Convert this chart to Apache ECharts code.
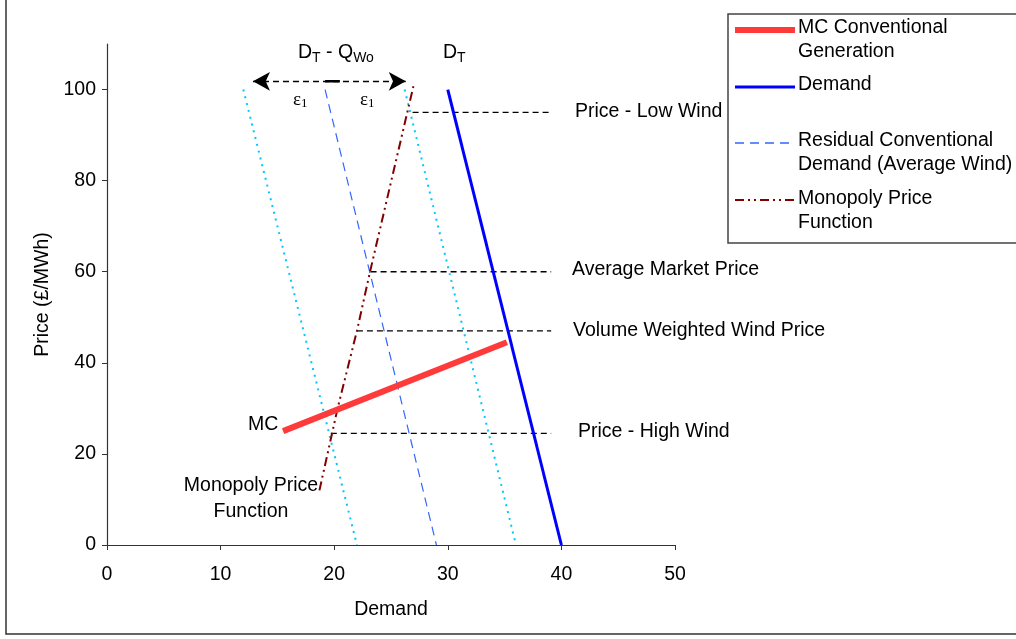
<!DOCTYPE html>
<html><head><meta charset="utf-8">
<script src="https://cdn.jsdelivr.net/npm/echarts@6/dist/echarts.min.js"></script>
<style>html,body{margin:0;padding:0;background:#fff}#c{width:1016px;height:639px}</style>
</head><body><div id="c"></div>
<script>
// ---- data ----
const xTicks = [0, 10, 20, 30, 40, 50];
const yTicks = [0, 20, 40, 60, 80, 100];
const mcLine = [[15.5, 25], [35.2, 44.5]];
const demandLine = [[30, 100], [40, 0]];
const residualLine = [[19.2, 100], [29, 0]];
const lowerBand = [[12, 100], [22, 0]];
const upperBand = [[26.2, 100], [36, 0]];
const monopolyLine = [[18.7, 12], [20.3, 30], [22, 47], [23.2, 60.5], [27, 101]];
const priceLowWind = [[26.9, 95], [39.1, 95]];
const avgMarketPrice = [[23.2, 60], [39.1, 60]];
const volWeightedPrice = [[22, 47], [39.1, 47]];
const priceHighWind = [[19.7, 24.5], [39.1, 24.5]];
const arrowSpan = [[12.85, 101.8], [26.3, 101.8]];
const arrowMid = [[19.2, 101.8], [20.5, 101.8]];

const F = 'Liberation Sans, Arial, sans-serif';
const FS = 19.5;
const chart = echarts.init(document.getElementById('c'), null, {renderer: 'canvas'});

function lineSeries(name, data, style, z) {
  return {name, type: 'line', data, symbol: 'none', silent: true, animation: false,
    lineStyle: style, z: z || 2};
}
const hDash = {color: '#000', width: 1.3, type: [6, 4]};
const cyan = {color: '#00c8ff', width: 2, type: [2, 5]};
function txt(x, y, text, extra) {
  return {type: 'text', x, y, style: Object.assign({text, fontFamily: F, fontSize: FS, fill: '#000', verticalAlign: 'middle'}, extra || {})};
}
const subRich = {a: {fontFamily: F, fontSize: FS, fill: '#000'}, s: {fontFamily: F, fontSize: 14, fill: '#000', padding: [11, 0, 0, 0]}};
const epsRich = {a: {fontFamily: 'Liberation Serif, serif', fontSize: 19, fill: '#000'}, s: {fontFamily: 'Liberation Serif, serif', fontSize: 13, fill: '#000', padding: [8, 0, 0, 0]}};

const option = {
  animation: false,
  grid: {left: 107, right: 341, top: 44, bottom: 94},
  xAxis: {
    type: 'value', min: 0, max: 50, interval: 10,
    name: 'Demand', nameLocation: 'middle', nameGap: 55,
    nameTextStyle: {fontFamily: F, fontSize: FS, color: '#000'},
    axisLine: {onZero: false, lineStyle: {color: '#333', width: 1.2}},
    axisTick: {show: true, length: 5, lineStyle: {color: '#333'}},
    axisLabel: {fontFamily: F, fontSize: FS, color: '#000', margin: 20},
    splitLine: {show: false}
  },
  yAxis: {
    type: 'value', min: 0, max: 110,
    name: 'Price (£/MWh)', nameLocation: 'middle', nameGap: 54, nameRotate: 90,
    nameTextStyle: {fontFamily: F, fontSize: FS, color: '#000'},
    axisLine: {show: true, lineStyle: {color: '#333', width: 1.2}},
    axisTick: {show: true, length: 5, customValues: yTicks, lineStyle: {color: '#333'}},
    axisLabel: {fontFamily: F, fontSize: FS, color: '#000', margin: 11, customValues: yTicks},
    splitLine: {show: false}
  },
  series: [
    lineSeries('lowerBand', lowerBand, cyan),
    lineSeries('upperBand', upperBand, cyan),
    lineSeries('Residual Conventional Demand (Average Wind)', residualLine, {color: '#3366ff', width: 1.2, type: [9, 6]}),
    lineSeries('priceLowWind', priceLowWind, hDash),
    lineSeries('avgMarketPrice', avgMarketPrice, hDash),
    lineSeries('volWeightedPrice', volWeightedPrice, hDash),
    lineSeries('priceHighWind', priceHighWind, hDash),
    lineSeries('Monopoly Price Function', monopolyLine, {color: '#800000', width: 2, type: [9, 4, 2, 4, 2, 4]}, 3),
    lineSeries('MC Conventional Generation', mcLine, {color: '#ff3a3a', width: 6}, 4),
    lineSeries('Demand', demandLine, {color: '#0000ff', width: 3}, 4),
    {
      type: 'line', data: [], silent: true,
      markLine: {
        silent: true, animation: false,
        symbol: ['arrow', 'arrow'], symbolSize: [14, 17],
        label: {show: false},
        lineStyle: {color: '#000', width: 1.3, type: [6, 4]},
        data: [[{coord: arrowSpan[0]}, {coord: arrowSpan[1]}]]
      }
    },
    lineSeries('arrowMid', arrowMid, {color: '#000', width: 2.5}, 5)
  ],
  graphic: [
    {type: 'rect', shape: {x: 6, y: -10, width: 1030, height: 644}, style: {fill: 'none', stroke: '#333', lineWidth: 1.5}, z: 0, silent: true},
    {type: 'text', x: 298, y: 53, style: {rich: subRich, text: '{a|D}{s|T}{a| - Q}{s|Wo}', verticalAlign: 'middle'}},
    {type: 'text', x: 443, y: 53, style: {rich: subRich, text: '{a|D}{s|T}', verticalAlign: 'middle'}},
    {type: 'text', x: 293, y: 100, style: {rich: epsRich, text: '{a|ε}{s|1}', verticalAlign: 'middle'}},
    {type: 'text', x: 360, y: 100, style: {rich: epsRich, text: '{a|ε}{s|1}', verticalAlign: 'middle'}},
    txt(575, 112, 'Price - Low Wind'),
    txt(572, 270, 'Average Market Price'),
    txt(573, 331, 'Volume Weighted Wind Price'),
    txt(578, 432, 'Price - High Wind'),
    txt(248, 425, 'MC'),
    txt(251, 486, 'Monopoly Price', {align: 'center'}),
    txt(251, 512, 'Function', {align: 'center'}),
    // legend box
    {type: 'group', z: 100, children: [
      {type: 'rect', shape: {x: 728, y: 14, width: 320, height: 229}, style: {fill: '#fff', stroke: '#444', lineWidth: 1.5}},
      {type: 'line', shape: {x1: 735, y1: 30, x2: 795, y2: 30}, style: {stroke: '#ff3a3a', lineWidth: 6}},
      txt(798, 28, 'MC Conventional'),
      txt(798, 52, 'Generation'),
      {type: 'line', shape: {x1: 735, y1: 87, x2: 795, y2: 87}, style: {stroke: '#0000ff', lineWidth: 3}},
      txt(798, 85, 'Demand'),
      {type: 'line', shape: {x1: 735, y1: 143, x2: 795, y2: 143}, style: {stroke: '#3366ff', lineWidth: 1.5, lineDash: [9, 6]}},
      txt(798, 141, 'Residual Conventional'),
      txt(798, 165, 'Demand (Average Wind)'),
      {type: 'line', shape: {x1: 735, y1: 200, x2: 795, y2: 200}, style: {stroke: '#800000', lineWidth: 2, lineDash: [9, 4, 2, 4, 2, 4]}},
      txt(798, 199, 'Monopoly Price'),
      txt(798, 223, 'Function')
    ]}
  ]
};
chart.setOption(option);
</script>
</body></html>
